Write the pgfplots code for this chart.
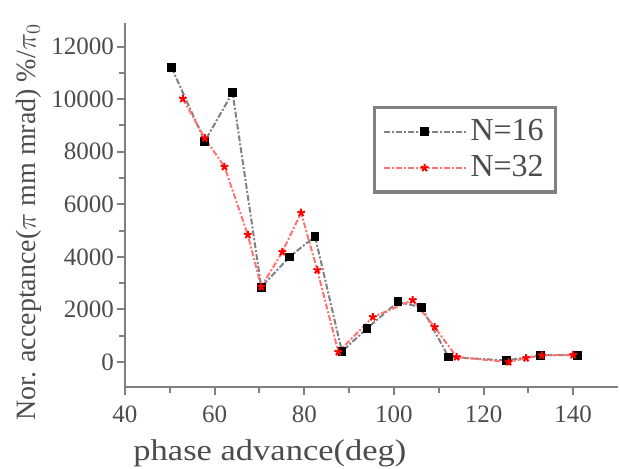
\documentclass[border=0pt]{standalone}
\usepackage{fontspec}
\setmainfont{Liberation Serif}
\newfontfamily\widefont{Liberation Serif}[FakeStretch=1.15]
\usepackage{pgfplots}
\pgfplotsset{compat=1.18}
\definecolor{axgray}{gray}{0.5}
\begin{document}
\begin{tikzpicture}
% page frame: 620x469 px at 0.5pt per px, axis corner at (125,387) px
\useasboundingbox (-62.5pt,-41pt) rectangle (247.5pt,193.5pt);
\begin{axis}[
  width=246.5pt, height=182pt, scale only axis,
  xmin=40, xmax=150, ymin=-950, ymax=12900,
  axis lines=left, axis line style={-, axgray, line width=1pt},
  xtick={40,60,...,140}, ytick={0,2000,...,12000},
  minor x tick num=1, minor y tick num=1,
  tick align=outside, major tick length=4pt, minor tick length=3pt,
  tick style={axgray, line width=1pt},
  scaled ticks=false,
  /pgf/number format/assume math mode=true,
  /pgf/number format/set thousands separator={},
  ticklabel style={font=\fontsize{12.5}{12.5}\selectfont, text=black!70},
  xticklabel style={yshift=-2pt},
  yticklabel style={xshift=2pt},
  xlabel={phase advance(deg)},
  xlabel style={font=\widefont\fontsize{15}{15}\selectfont, text=black!70,
    inner sep=0pt, at={(axis description cs:0.294,0)}, anchor=north, yshift=-26pt},
  ylabel={Nor. acceptance($\pi$ mm mrad) \%/$\pi_0$},
  ylabel style={font=\fontsize{14}{14}\selectfont, text=black!70,
    at={(axis description cs:-0.195,0.452)}, anchor=center},
  legend style={at={(axis description cs:0.503,0.772)}, anchor=north west,
    draw=axgray, line width=1.6pt, font=\fontsize{16}{16}\selectfont,
    text=black!70, inner xsep=4pt, inner ysep=4pt, row sep=2pt},
  legend cell align=left,
  legend image code/.code={\draw[mark repeat=2,mark phase=2]
    plot coordinates {(0cm,0cm) (0.72cm,0cm) (1.44cm,0cm)};},
]
\addplot[black!50, line width=1pt, densely dashdotted,
  mark=square*, mark size=1.7pt, mark options={solid, black}] coordinates {
  (50.4,11200) (57.8,8400) (64,10250) (70.4,2850) (76.7,4000) (82.4,4780)
  (88.4,400) (94,1280) (100.9,2290) (106.2,2080) (112.2,190) (125.1,60)
  (132.7,260) (141,260)
};
\addlegendentry{N=16}
\addplot[red!55, line width=1pt, densely dashdotted,
  mark=star, mark size=2pt, mark options={solid, red, line width=1pt}] coordinates {
  (52.9,10020) (57.8,8520) (62.2,7430) (67.4,4840) (70.4,2860) (75.1,4190)
  (79.3,5680) (82.9,3500) (87.6,380) (95.3,1710) (104.2,2360) (109.1,1330)
  (114,190) (125.6,0) (129.5,150) (133,250) (140,270)
};
\addlegendentry{N=32}
\end{axis}
\end{tikzpicture}
\end{document}
